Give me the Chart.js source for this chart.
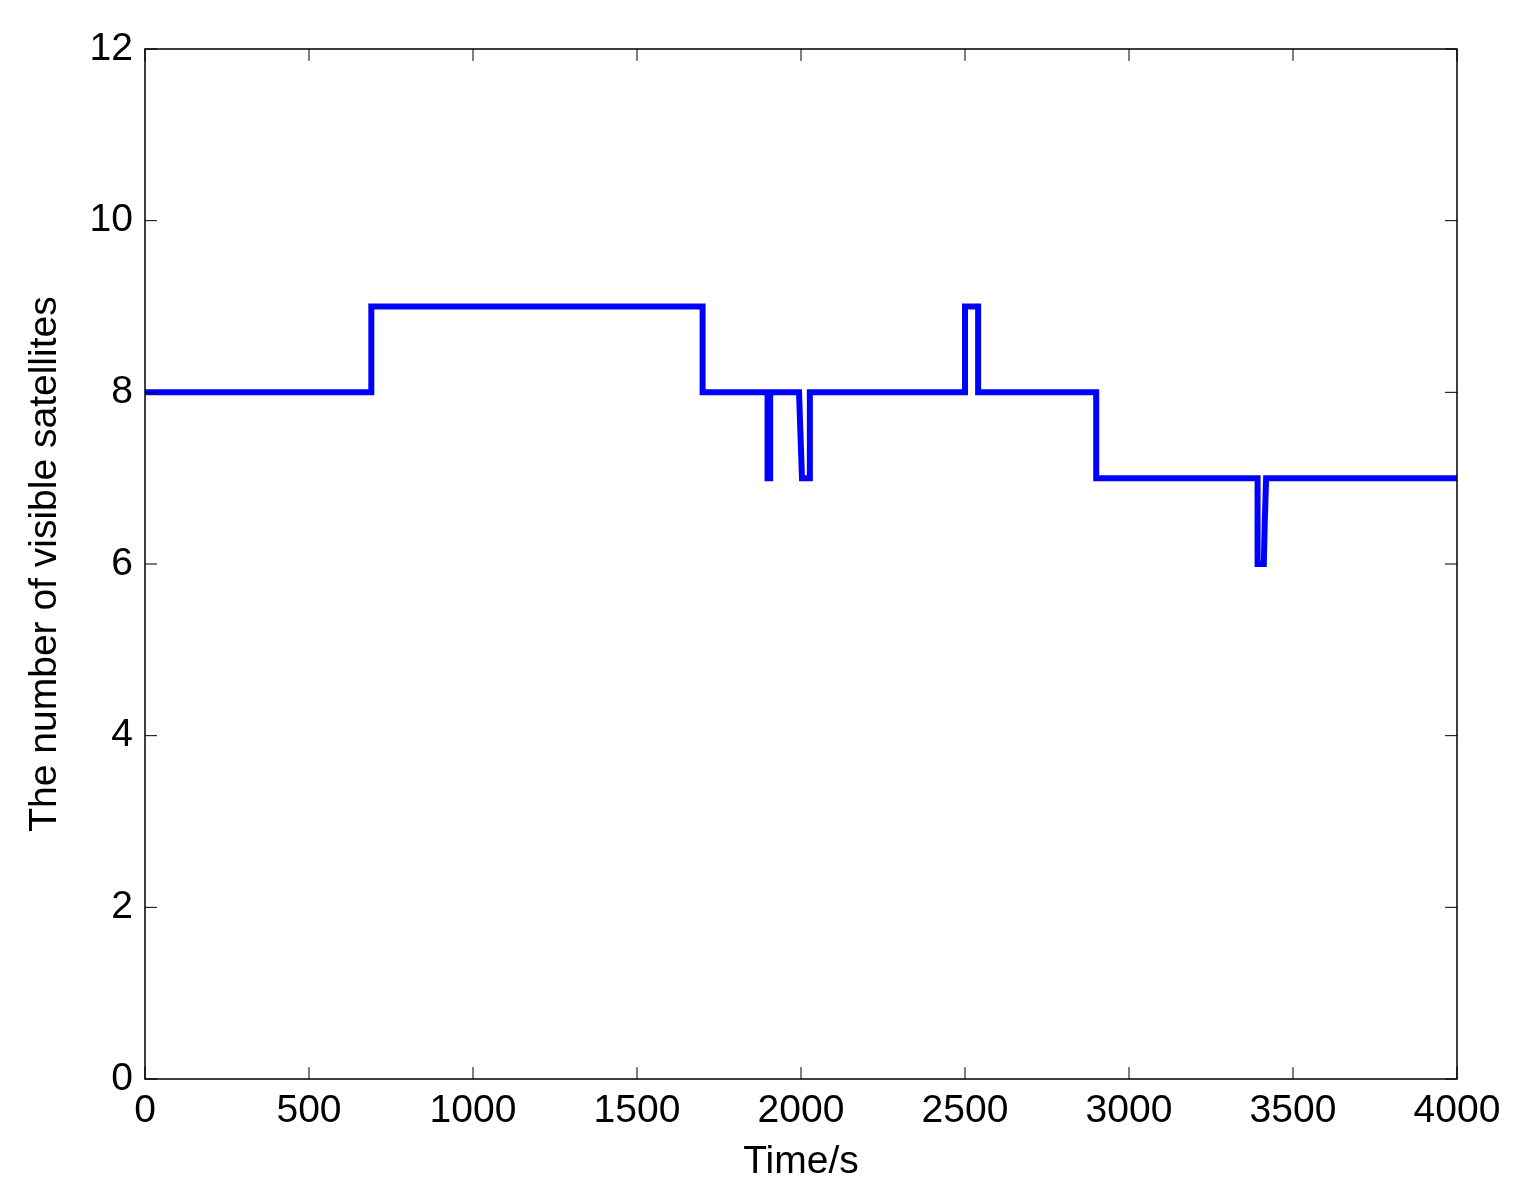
<!DOCTYPE html>
<html>
<head>
<meta charset="utf-8">
<script src="https://cdn.jsdelivr.net/npm/chart.js@4/dist/chart.umd.min.js"></script>
<style>
  html, body { margin: 0; padding: 0; background: #fff; }
  #wrap { width: 1524px; height: 1200px; }
</style>
</head>
<body>
<div id="wrap"><canvas id="satChart" width="1524" height="1200"></canvas></div>
<script>
// satellite count over time, corners of the step line
var timeSec  = [0, 690, 690, 1700, 1700, 1898, 1898, 1906, 1906, 1994, 2003, 2027, 2027, 2500, 2500, 2540, 2540, 2900, 2900, 3392, 3392, 3411, 3414, 3418, 4000];
var satCount = [8, 8,   9,   9,    8,    8,    7,    7,    8,    8,    7,    7,    8,    8,    9,    9,    8,    8,    7,    7,    6,    6,    6.5,  7,    7];

var xTicks = [0, 500, 1000, 1500, 2000, 2500, 3000, 3500, 4000];
var yTicks = [0, 2, 4, 6, 8, 10, 12];

var FONT = "'Liberation Sans', Arial, Helvetica, sans-serif";
var FSIZE = 39;

var points = timeSec.map((t, i) => ({ x: t, y: satCount[i] }));

// matlab style: box round the axes, ticks pointing inwards on all four sides
var boxTicks = {
  id: 'boxTicks',
  afterDraw(chart) {
    var ctx = chart.ctx;
    var a = chart.chartArea;
    var xs = chart.scales.x, ys = chart.scales.y;
    var len = 12;
    ctx.save();
    ctx.strokeStyle = '#000';
    ctx.lineWidth = 1.5;
    ctx.strokeRect(a.left, a.top, a.right - a.left, a.bottom - a.top);
    ctx.lineWidth = 1;
    ctx.beginPath();
    xTicks.forEach(v => {
      var px = xs.getPixelForValue(v);
      ctx.moveTo(px, a.bottom); ctx.lineTo(px, a.bottom - len);
      ctx.moveTo(px, a.top);    ctx.lineTo(px, a.top + len);
    });
    yTicks.forEach(v => {
      var py = ys.getPixelForValue(v);
      ctx.moveTo(a.left, py);  ctx.lineTo(a.left + len, py);
      ctx.moveTo(a.right, py); ctx.lineTo(a.right - len, py);
    });
    ctx.stroke();
    ctx.restore();
  }
};

new Chart(document.getElementById('satChart'), {
  type: 'line',
  data: {
    datasets: [{
      data: points,
      borderColor: '#0000FF',
      borderWidth: 6,
      pointRadius: 0,
      tension: 0,
      fill: false
    }]
  },
  options: {
    responsive: false,
    animation: false,
    layout: { padding: { top: 49, right: 67, bottom: 0, left: 0 } },
    plugins: {
      legend: { display: false },
      title: { display: false },
      tooltip: { enabled: false }
    },
    scales: {
      x: {
        type: 'linear',
        min: 0,
        max: 4000,
        afterBuildTicks(scale) { scale.ticks = xTicks.map(v => ({ value: v })); },
        afterFit(scale) { scale.height = 121; },
        grid: { display: false, drawTicks: false },
        border: { display: false },
        ticks: {
          color: '#000',
          font: { family: FONT, size: FSIZE },
          padding: 9,
          maxRotation: 0,
          callback: v => String(v)
        },
        title: {
          display: true,
          text: 'Time/s',
          color: '#000',
          font: { family: FONT, size: FSIZE },
          padding: { top: 0, bottom: 14 }
        }
      },
      y: {
        type: 'linear',
        min: 0,
        max: 12,
        afterBuildTicks(scale) { scale.ticks = yTicks.map(v => ({ value: v })); },
        afterFit(scale) { scale.width = 145; },
        grid: { display: false, drawTicks: false },
        border: { display: false },
        ticks: {
          color: '#000',
          font: { family: FONT, size: FSIZE },
          padding: 12,
          callback: v => String(v)
        },
        title: {
          display: true,
          text: 'The number of visible satellites',
          color: '#000',
          font: { family: FONT, size: FSIZE },
          padding: { top: 22, bottom: 0 }
        }
      }
    }
  },
  plugins: [boxTicks]
});
</script>
</body>
</html>
